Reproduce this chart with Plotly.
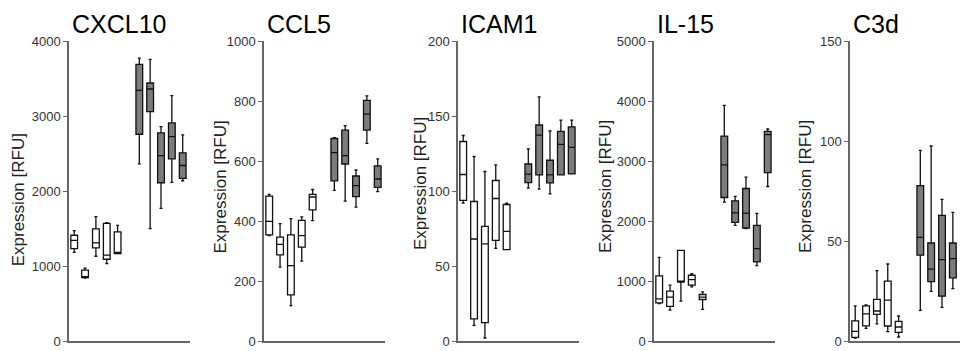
import plotly.graph_objects as go

genes = ["CXCL10", "CCL5", "ICAM1", "IL-15", "C3d"]
positions = [0, 1, 2, 3, 4, 6, 7, 8, 9, 10]

cxcl10_lo = [1183, 840, 1130, 1033, 1166, 2363, 1498, 1769, 2114, 2137]
cxcl10_q1 = [1232, 845, 1241, 1090, 1166, 2757, 3059, 2110, 2429, 2168]
cxcl10_med = [1343, 858, 1308, 1144, 1183, 3342, 3360, 2473, 2726, 2340]
cxcl10_q3 = [1410, 944, 1494, 1569, 1454, 3688, 3440, 2775, 2908, 2509]
cxcl10_hi = [1472, 971, 1658, 1578, 1543, 3772, 3754, 2859, 3271, 2748]

ccl5_lo = [351, 246, 118, 266, 401, 502, 466, 446, 659, 498]
ccl5_q1 = [354, 287, 154, 313, 437, 534, 590, 481, 703, 512]
ccl5_med = [399, 322, 251, 351, 480, 628, 618, 518, 756, 540]
ccl5_q3 = [483, 346, 354, 402, 489, 675, 703, 550, 802, 584]
ccl5_hi = [489, 391, 408, 414, 505, 678, 718, 570, 817, 607]

icam1_lo = [91.9, 10.4, 2.0, 61.8, 60.9, 101.9, 101.2, 98.1, 110.7, 111.4]
icam1_q1 = [93.7, 14.8, 12.2, 67.1, 60.9, 105.6, 110.7, 105.4, 110.7, 111.4]
icam1_med = [111, 68, 64.7, 95, 73.1, 111.2, 137.3, 110.7, 131.1, 129.1]
icam1_q3 = [133, 93, 76.4, 107, 91, 118, 144, 120.5, 139.8, 142.8]
icam1_hi = [137, 123, 113, 117.4, 91.9, 128, 162.8, 140, 147.3, 147.3]

il15_lo = [625, 515, 664, 903, 526, 2315, 1927, 1872, 1257, 2575]
il15_q1 = [637, 576, 980, 930, 692, 2392, 1977, 1883, 1318, 2807]
il15_med = [703, 731, 990, 1024, 731, 2935, 2137, 2132, 1539, 3439]
il15_q3 = [1085, 831, 1512, 1096, 775, 3416, 2337, 2542, 1927, 3494]
il15_hi = [1395, 930, 1512, 1124, 820, 3926, 2409, 2730, 2126, 3533]

c3d_lo = [1.5, 6.3, 8.6, 4.7, 2.0, 15.3, 24.8, 16.8, 26.2]
c3d_q1 = [1.8, 7.6, 13.3, 7.5, 4.3, 42.9, 29.7, 22.4, 31.6]
c3d_med = [4.8, 13.6, 15.0, 20.4, 7.0, 51.8, 35.9, 40.7, 41.2]
c3d_q3 = [10.1, 17.6, 20.8, 29.9, 9.8, 77.7, 49.0, 62.8, 49.0]
c3d_hi = [17.6, 18.1, 35.2, 38.5, 12.5, 95.3, 97.5, 70.8, 64.3]

y_max = [4000, 1000, 200, 5000, 150]
y_dtick = [1000, 200, 50, 1000, 50]

panels = [
    (cxcl10_lo, cxcl10_q1, cxcl10_med, cxcl10_q3, cxcl10_hi),
    (ccl5_lo, ccl5_q1, ccl5_med, ccl5_q3, ccl5_hi),
    (icam1_lo, icam1_q1, icam1_med, icam1_q3, icam1_hi),
    (il15_lo, il15_q1, il15_med, il15_q3, il15_hi),
    (c3d_lo, c3d_q1, c3d_med, c3d_q3, c3d_hi),
]

W, H = 960, 351
MT, MB = 41, 10
PLOT_H = H - MT - MB
axis_left_px = [69, 264, 458, 654, 850]
axis_len_px = 121
unit_px = 10.85
x0_units = -0.48
ytitle_x_px = [18.8, 219.5, 420, 605, 805]
ytitle_y_px = [199.5, 187, 184, 187, 187]

FONT = "Liberation Sans, Arial, sans-serif"
fig = go.Figure()
annotations = []

for i, (lo, q1, med, q3, hi) in enumerate(panels):
    n = len(lo)
    pos = positions[:n]
    xa = "x" if i == 0 else f"x{i+1}"
    ya = "y" if i == 0 else f"y{i+1}"
    groups = [(0, 5, "white"), (5, n, "#7c7c7c")]
    for a, b, fill in groups:
        fig.add_trace(go.Box(
            x=pos[a:b], q1=q1[a:b], median=med[a:b], q3=q3[a:b],
            lowerfence=lo[a:b], upperfence=hi[a:b],
            fillcolor=fill, line=dict(color="#111111", width=1.3),
            width=0.62, whiskerwidth=0.45, boxpoints=False,
            xaxis=xa, yaxis=ya, showlegend=False, hoverinfo="skip",
        ))
    left = axis_left_px[i] / W
    right_px = axis_left_px[i] + axis_len_px
    right = min(right_px, W) / W
    vis_len = min(right_px, W) - axis_left_px[i]
    xr = [x0_units, x0_units + vis_len / unit_px]
    xkey = "xaxis" if i == 0 else f"xaxis{i+1}"
    ykey = "yaxis" if i == 0 else f"yaxis{i+1}"
    fig.update_layout(**{
        xkey: dict(domain=[left, right], range=xr, showline=True, linecolor="#666666",
                   linewidth=1.5, showticklabels=False, ticks="", showgrid=False,
                   zeroline=False, anchor=ya),
        ykey: dict(range=[0, y_max[i]], dtick=y_dtick[i], tick0=0, showline=True,
                   linecolor="#666666", linewidth=1.5, ticks="outside", ticklen=4,
                   tickcolor="#666666", tickwidth=1.2, showgrid=False, zeroline=False,
                   tickfont=dict(family=FONT, size=13, color="#333333"), anchor=xa),
    })
    annotations.append(dict(
        text=genes[i], xref="paper", yref="paper",
        x=(axis_left_px[i] + 1) / W, y=(H - MB - 24) / PLOT_H,
        xanchor="left", yanchor="middle", showarrow=False,
        font=dict(family=FONT, size=25, color="#000000"),
    ))
    annotations.append(dict(
        text="Expression [RFU]", xref="paper", yref="paper",
        x=ytitle_x_px[i] / W, y=(H - MB - ytitle_y_px[i]) / PLOT_H,
        xanchor="center", yanchor="middle", textangle=-90, showarrow=False,
        font=dict(family=FONT, size=17, color="#222222"),
    ))

fig.update_layout(
    width=W, height=H, margin=dict(l=0, r=0, t=MT, b=MB),
    paper_bgcolor="white", plot_bgcolor="white", boxmode="overlay",
    annotations=annotations, showlegend=False,
)

fig.write_html("out.html")
